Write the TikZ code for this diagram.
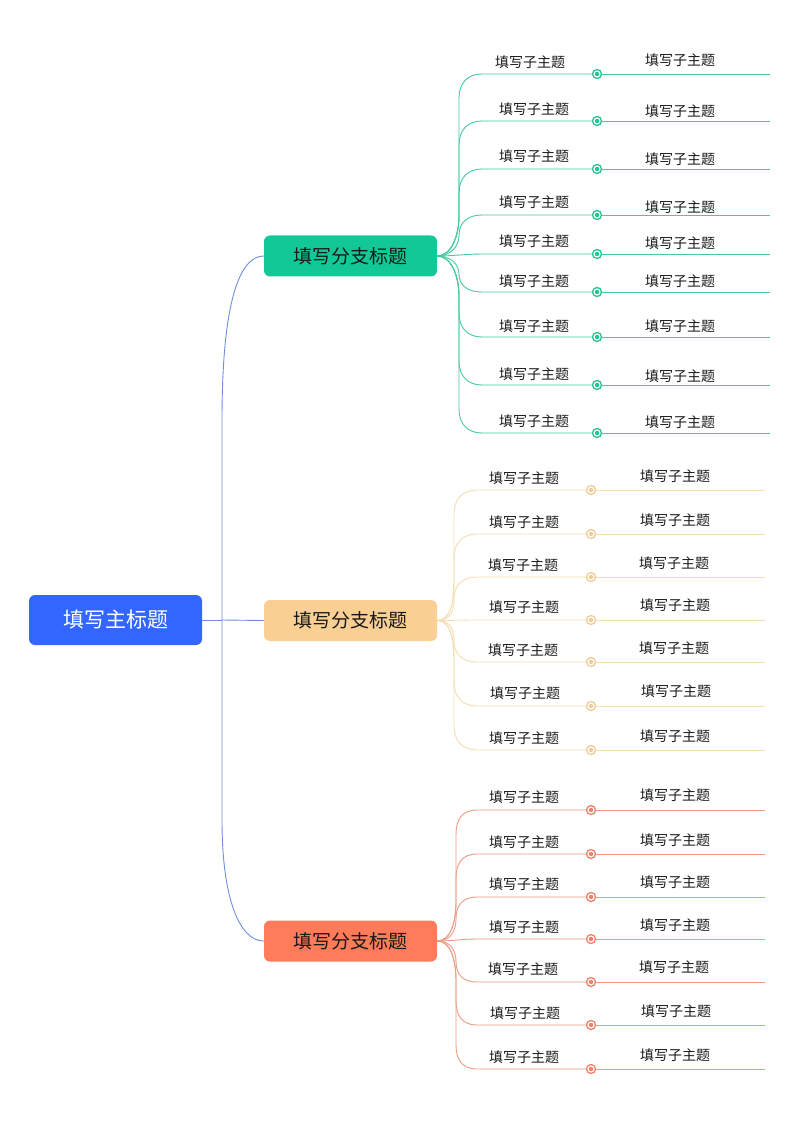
\documentclass[tikz,border=0pt]{standalone}
\usepackage{fontspec}
\setmainfont{Noto Sans CJK SC}
\usetikzlibrary{calc}
\definecolor{mainblue}{HTML}{3366FF}
\definecolor{mline}{HTML}{6F8FDC}
\definecolor{gbox}{HTML}{12C896}
\definecolor{gline}{HTML}{45CBA2}
\definecolor{gdot}{HTML}{2AC092}
\definecolor{obox}{HTML}{F9CF94}
\definecolor{oline}{HTML}{F6DDB4}
\definecolor{odot}{HTML}{F2CC96}
\definecolor{rbox}{HTML}{FF7B5A}
\definecolor{rline}{HTML}{EC9C84}
\definecolor{rdot}{HTML}{E8846A}
\definecolor{txt}{HTML}{1A1A1A}
\tikzset{
  mainbox/.style={rounded corners=6pt, fill=mainblue, minimum width=173pt, minimum height=50pt, text=white, font=\fontsize{21}{21}\selectfont, inner sep=0pt},
  branchbox/.style={rounded corners=6pt, fill=#1, minimum width=173pt, minimum height=41pt, text=txt, font=\fontsize{19}{19}\selectfont, inner sep=0pt},
  sublabel/.style={text=txt, font=\fontsize{14}{14}\selectfont, inner sep=0pt},
  dotnode/.style={circle, draw=#1, fill=white, line width=1.3pt, minimum size=9pt, inner sep=0pt,
    path picture={\fill[#1] (path picture bounding box.center) circle (2.2pt);}},
  conn/.style={draw=#1, line width=0.9pt},
}
% #1 box node, #2 box y, #3 trunk x, #4 row y, #5 start coordinate, #6 circle node, #7 colour
\newcommand{\subcurve}[7]{%
  \pgfmathsetmacro{\mydy}{#4-#2}%
  \pgfmathsetmacro{\myady}{abs(\mydy)}%
  \ifdim \myady pt<8pt
    \draw[conn=#7] (#1.east) .. controls +(15,0) and +(-15,0) .. (#5) -- (#6.west);
  \else
    \pgfmathsetmacro{\mysg}{sign(\mydy)}%
    \pgfmathsetmacro{\mya}{#2+\mysg*min(40,\myady/2)}%
    \pgfmathsetmacro{\myac}{#2+\mysg*min(40,\myady/2)*0.5}%
    \pgfmathsetmacro{\myb}{#4-\mysg*min(24,\myady/2)}%
    \pgfmathsetmacro{\mybc}{#4-\mysg*min(24,\myady/2)*0.4}%
    \draw[conn=#7] (#1.east) .. controls ($(#1.east)+(14,0)$) and (#3,\myac) .. (#3,\mya) -- (#3,\myb) .. controls (#3,\mybc) and ($(#5)+(-15,0)$) .. (#5) -- (#6.west);
  \fi
}
\begin{document}
\begin{tikzpicture}[x=1pt,y=-1pt]
\useasboundingbox[fill=white] (0,0) rectangle (800,1131);

% main and branch boxes
\node[mainbox] (main) at (115.5,620) {填写主标题};
\node[branchbox=gbox] (gb) at (350.5,256) {填写分支标题};
\node[branchbox=obox] (ob) at (350.5,620.5) {填写分支标题};
\node[branchbox=rbox] (rb) at (350.5,941) {填写分支标题};

% main connectors
\coordinate (hub) at (222,620);
\coordinate (hubtop) at (222,420);
\coordinate (hubbot) at (222,820);
\draw[conn=mline] (main.east) -- (hub);
\draw[conn=mline] (hub) -- (hubtop) .. controls (222,300) and (240,256) .. (gb.west);
\draw[conn=mline] (hub) -- (ob.west);
\draw[conn=mline] (hub) -- (hubbot) .. controls (222,900) and (240,941) .. (rb.west);

% green subtopics
\foreach \i/\y/\ly/\ry/\lx in {1/74/62/60/530, 2/121/109/111/534, 3/169/156/159/534, 4/215/202/207/534, 5/254/241/243/534, 6/292/281/281/534, 7/337/326/326/534, 8/385/374/376/534, 9/433/421/422/534}{
  \node[dotnode=gdot] (gc\i) at (597,\y) {};
  \coordinate (gs\i) at (482,\y);
  \coordinate (ge\i) at (770,\y);
  \node[sublabel] (gl\i) at (\lx,\ly) {填写子主题};
  \node[sublabel] (gr\i) at (680,\ry) {填写子主题};
  \subcurve{gb}{256}{459}{\y}{gs\i}{gc\i}{gline}
  \draw[conn=gline] (gc\i.east) -- (ge\i);
}

% orange subtopics
\foreach \i/\y/\ly/\ry/\lx/\rx in {1/490/478/476/524/675, 2/534/522/520/524/675, 3/577/565/563/523/674, 4/620/607/605/524/675, 5/662/650/648/523/674, 6/706/693/691/525/676, 7/750/738/736/524/675}{
  \node[dotnode=odot] (oc\i) at (591,\y) {};
  \coordinate (os\i) at (477,\y);
  \coordinate (oe\i) at (765,\y);
  \node[sublabel] (ol\i) at (\lx,\ly) {填写子主题};
  \node[sublabel] (or\i) at (\rx,\ry) {填写子主题};
  \subcurve{ob}{620.5}{454}{\y}{os\i}{oc\i}{oline}
  \draw[conn=oline] (oc\i.east) -- (oe\i);
}

% red subtopics
\foreach \i/\y/\ly/\ry/\lx/\rx in {1/810/797/795/524/675, 2/854/842/840/524/675, 3/897/884/882/524/675, 4/939/927/925/524/675, 5/982/969/967/523/674, 6/1025/1013/1011/525/676, 7/1069/1057/1055/524/675}{
  \node[dotnode=rdot] (rc\i) at (591,\y) {};
  \coordinate (rs\i) at (477,\y);
  \coordinate (re\i) at (765,\y);
  \node[sublabel] (rl\i) at (\lx,\ly) {填写子主题};
  \node[sublabel] (rr\i) at (\rx,\ry) {填写子主题};
  \subcurve{rb}{941}{456}{\y}{rs\i}{rc\i}{rline}
  \draw[conn=rline] (rc\i.east) -- (re\i);
}
\end{tikzpicture}
\end{document}
